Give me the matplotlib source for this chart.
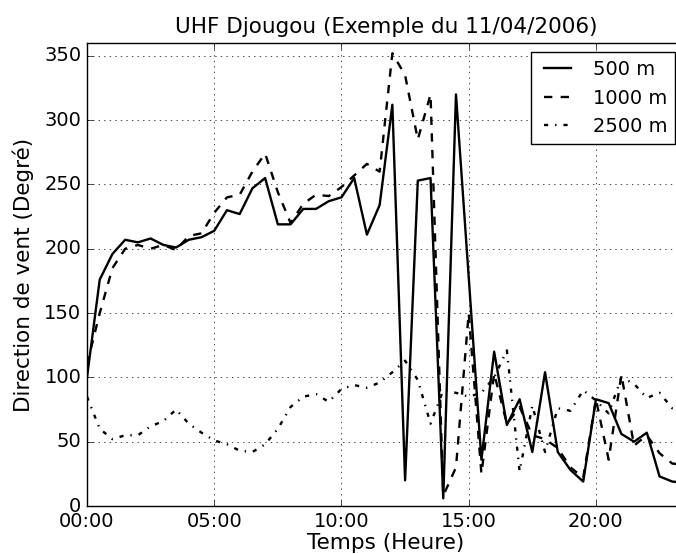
import matplotlib
matplotlib.use("Agg")
import matplotlib.pyplot as plt

# style "classic" (ancien matplotlib) : ticks vers l'intérieur, grille pointillée
plt.style.use("classic")
plt.rcParams.update({
    "figure.facecolor": "white",
    "savefig.facecolor": "white",
    "font.family": "DejaVu Sans",
    "font.size": 14,
    "axes.titlesize": 15.5,
    "axes.labelsize": 15.5,
    "xtick.labelsize": 14,
    "ytick.labelsize": 14,
    "legend.fontsize": 14,
})

# === DONNÉES (pas de 30 min) ===
heures = [0.0, 0.5, 1.0, 1.5, 2.0, 2.5, 3.0, 3.5, 4.0, 4.5, 5.0, 5.5,
          6.0, 6.5, 7.0, 7.5, 8.0, 8.5, 9.0, 9.5, 10.0, 10.5, 11.0, 11.5,
          12.0, 12.5, 13.0, 13.5, 14.0, 14.5, 15.0, 15.5, 16.0, 16.5, 17.0, 17.5,
          18.0, 18.5, 19.0, 19.5, 20.0, 20.5, 21.0, 21.5, 22.0, 22.5, 23.0, 23.5]

dir_500 = [100, 176, 196, 207, 205, 208, 203, 201, 207, 209, 214, 230,
           227, 247, 255, 219, 219, 231, 231, 237, 240, 255, 211, 234,
           312, 20, 253, 255, 6, 320, 178, 36, 120, 63, 83, 42,
           104, 42, 28, 19, 83, 80, 56, 50, 57, 23, 19, 18]

dir_1000 = [110, 150, 185, 200, 203, 200, 203, 199, 210, 212, 228, 240,
            242, 260, 274, 244, 220, 235, 242, 241, 248, 257, 266, 260,
            352, 335, 285, 320, 8, 30, 150, 25, 103, 64, 77, 55,
            52, 45, 30, 22, 83, 36, 102, 47, 55, 41, 33, 32]

dir_2500 = [85, 60, 52, 55, 55, 62, 66, 75, 64, 57, 51, 48,
            43, 42, 48, 60, 77, 85, 87, 81, 91, 94, 92, 96,
            104, 113, 98, 64, 90, 88, 85, 88, 100, 121, 27, 78,
            42, 76, 74, 90, 82, 72, 100, 95, 84, 88, 76, 76]

xticks = [0, 5, 10, 15, 20]
xticklabels = ["00:00", "05:00", "10:00", "15:00", "20:00"]

# === FIGURE ===
W, H = 676, 554
fig = plt.figure(figsize=(W / 100, H / 100), dpi=100)
# l'axe dépasse à droite (image rognée)
ax = fig.add_axes([87 / W, 48 / H, 598 / W, 463 / H])

ax.plot(heures, dir_500, "k-", lw=1.7, label="500 m")
ax.plot(heures, dir_1000, "k--", lw=1.7, label="1000 m")
ax.plot(heures, dir_2500, "k-.", lw=1.7, label="2500 m")

ax.set_xlim(0, 23.5)
ax.set_ylim(0, 360)
ax.set_yticks(range(0, 351, 50))
ax.set_xticks(xticks)
ax.set_xticklabels(xticklabels)
ax.grid(True)

ax.set_title("UHF Djougou (Exemple du 11/04/2006)", pad=7)
ax.set_xlabel("Temps (Heure)", labelpad=1.5)
ax.set_ylabel("Direction de vent (Degré)", labelpad=7.5)

ax.legend(loc="upper right", bbox_to_anchor=(675 / W, 1 - 52 / H),
          bbox_transform=fig.transFigure, borderaxespad=0)

fig.savefig("out.png", dpi=100)
